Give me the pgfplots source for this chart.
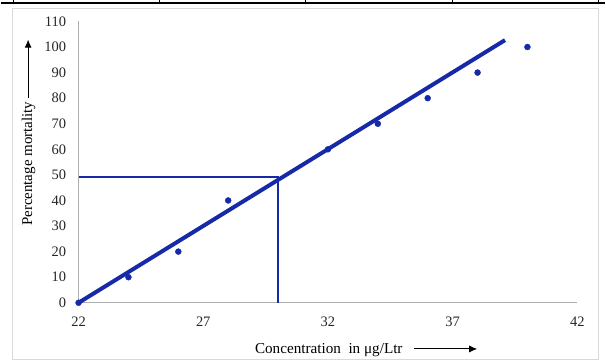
\documentclass[border=0pt]{standalone}
\usepackage{pgfplots}
\pgfplotsset{compat=1.18}
\usepackage{fontspec}
\setmainfont{Liberation Serif}
\usetikzlibrary{arrows.meta}
\definecolor{lblue}{RGB}{22,42,168}
\definecolor{axgray}{RGB}{175,175,175}
\begin{document}
\begin{tikzpicture}[x=1pt,y=1pt]
\begin{axis}[
  name=ax,
  scale only axis,
  width=500pt, height=282pt,
  xmin=22, xmax=42, ymin=0, ymax=110,
  axis x line=bottom, axis y line=left,
  axis line style={axgray, line width=1.2pt, -},
  xtick={22,27,32,37,42},
  ytick={0,10,...,110},
  major tick length=0pt,
  tick label style={font=\fontsize{14.5}{16}\selectfont, text=black!85},
  /pgf/number format/assume math mode=true,
  xticklabel style={yshift=-11pt},
  yticklabel style={xshift=-9pt},
  xlabel={Concentration\ \ in μg/Ltr\ \ \ \tikz[baseline=-0.6ex]\draw[line width=0.9pt,-{Latex[length=8pt,width=7pt]}] (0,0)--(63pt,0);},
  xlabel style={font=\fontsize{15.2}{17}\selectfont, at={(axis description cs:0.577,-0.167)}, anchor=center},
  ylabel={Percentage mortality \tikz[baseline=-0.6ex]\draw[line width=0.9pt,-{Latex[length=8pt,width=7pt]}] (0,0)--(58pt,0);},
  ylabel style={font=\fontsize{15}{17}\selectfont, at={(axis description cs:-0.1,0.605)}, anchor=center, rotate=0},
  clip=false,
]
\addplot[lblue, line width=2pt] coordinates {(22,49) (30,49) (30,0)};
\addplot[lblue, line width=4pt] coordinates {(22,0) (39.1,102.7)};
\addplot[only marks, mark=*, mark size=3pt, lblue] coordinates {
(22,0) (24,10) (26,20) (28,40) (32,60) (34,70) (36,80) (38,90) (40,100)};
\end{axis}
\begin{scope}[shift={(ax.south west)}]
\draw[black!15, line width=1pt] (-66,-57) rectangle (521,295);
\draw[black, line width=1.5pt] (-78,300.5) -- (528,300.5);
\foreach \xx in {-65,81,228,375,521} \draw[black, line width=1pt] (\xx,300) -- (\xx,303);
\path (-78,-59) rectangle (528,303);
\end{scope}
\end{tikzpicture}
\end{document}
